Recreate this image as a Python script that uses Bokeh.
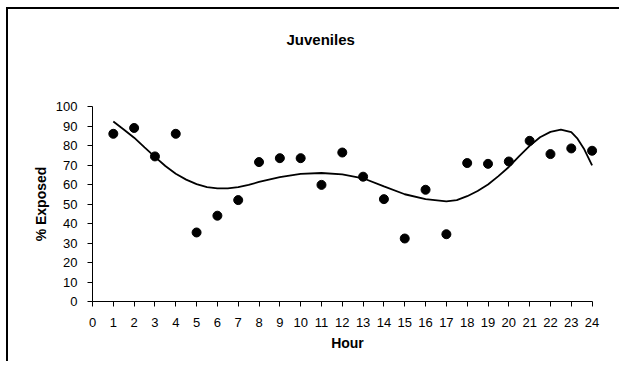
from bokeh.plotting import figure
from bokeh.models import Range1d, FixedTicker, Title
from bokeh.embed import file_html
from bokeh.resources import INLINE

# Observed % exposed by hour
hours = [1, 2, 3, 4, 5, 6, 7, 8, 9, 10, 11, 12, 13, 14, 15, 16, 17, 18, 19, 20, 21, 22, 23, 24]
exposed = [86, 89, 74.4, 86, 35.4, 44, 52, 71.5, 73.5, 73.5, 59.8, 76.4, 64, 52.5, 32.3, 57.3, 34.5, 71, 70.6, 71.8, 82.4, 75.6, 78.5, 77.3]

# Trend line
trend_hours = [1, 1.5, 2, 2.5, 3, 3.5, 4, 4.5, 5, 5.5, 6, 6.5, 7, 7.5, 8, 9, 10, 11, 12, 13, 14, 15, 16, 17, 17.5, 18, 18.5, 19, 19.5, 20, 20.5, 21, 21.5, 22, 22.5, 23, 23.3, 23.6, 24]
trend_values = [92.3, 88.2, 84, 79, 74.2, 69.5, 65.5, 62.5, 60.2, 58.7, 58, 58, 58.6, 59.8, 61.3, 63.8, 65.5, 65.9, 65.2, 63.2, 59, 55, 52.5, 51.3, 52, 54, 56.7, 60, 64.3, 69, 74.5, 79.8, 84.2, 87, 88.2, 86.8, 83.5, 78.5, 69.8]

x_ticks = list(range(0, 25))
y_ticks = list(range(0, 101, 10))

FONT = "Liberation Sans"

p = figure(width=613, height=354, output_backend="svg", toolbar_location=None,
           x_range=Range1d(0, 24.5), y_range=Range1d(0, 100),
           min_border_left=84, min_border_right=19, min_border_top=97, min_border_bottom=62,
           title=None,
           styles={"margin-left": "6px", "margin-top": "7px",
                   "border-left": "2px solid black", "border-top": "2px solid black"})
p.outline_line_color = None
p.xgrid.visible = False
p.ygrid.visible = False
p.background_fill_color = "white"
p.border_fill_color = "white"

# spacer between plot area and title
p.add_layout(Title(text=" ", text_font_size="1px", standoff=56), "above")
p.add_layout(Title(text="Juveniles", align="left", offset=194, standoff=0,
                   text_font=FONT, text_font_size="15px", text_font_style="bold",
                   text_color="black"), "above")

p.line(trend_hours, trend_values, line_color="black", line_width=1.8)
p.scatter(hours, exposed, size=9, color="black")

xa = p.xaxis[0]
xa.ticker = FixedTicker(ticks=x_ticks)
xa.bounds = (0, 24)
xa.axis_label = "Hour"
ya = p.yaxis[0]
ya.ticker = FixedTicker(ticks=y_ticks)
ya.axis_label = "% Exposed"

for ax in (xa, ya):
    ax.axis_line_color = "black"
    ax.axis_line_width = 1
    ax.major_tick_line_color = "black"
    ax.major_tick_out = 5
    ax.major_tick_in = 0
    ax.minor_tick_line_color = None
    ax.major_label_text_font = FONT
    ax.major_label_text_font_size = "13px"
    ax.major_label_text_color = "black"
    ax.axis_label_text_font = FONT
    ax.axis_label_text_font_size = "14px"
    ax.axis_label_text_font_style = "bold"
    ax.axis_label_text_color = "black"

xa.major_label_standoff = 11
xa.axis_label_standoff = 5
ya.major_label_standoff = 10
ya.axis_label_standoff = 4

open("out.html", "w").write(file_html(p, INLINE))
